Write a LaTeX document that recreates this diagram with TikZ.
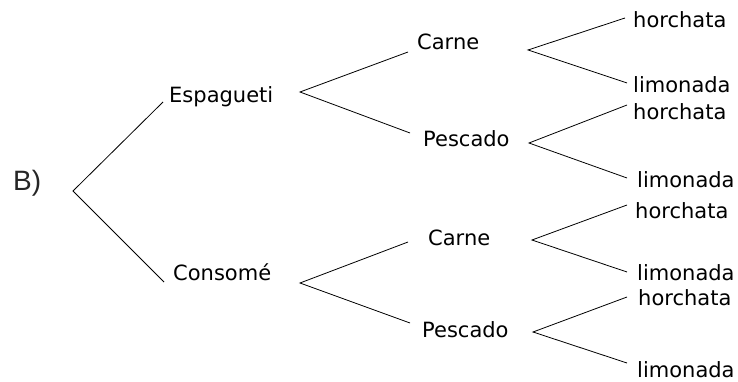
\documentclass[tikz,border=0pt]{standalone}
\usepackage{fontspec}
\setmainfont{DejaVu Sans}
\newfontfamily\labfont{Liberation Sans}
\begin{document}
\begin{tikzpicture}[x=1pt,y=-1pt,
  lbl/.style={anchor=base west,inner sep=0pt,font=\fontsize{21}{21}\selectfont,text=black},
  br/.style={line width=0.8pt,black}]
\useasboundingbox (0,0) rectangle (738,382);
% labels
\node[anchor=base west,inner sep=0pt,font=\labfont\fontsize{28}{28}\selectfont,text=black!85] (B) at (13,190) {B)};
\node[lbl] (esp) at (169,103) {Espagueti};
\node[lbl] (con) at (173,280) {Consomé};
\node[lbl] (car1) at (417,50) {Carne};
\node[lbl] (pes1) at (423,147) {Pescado};
\node[lbl] (car2) at (428,245) {Carne};
\node[lbl] (pes2) at (422,337) {Pescado};
\node[lbl] (h1) at (633,28) {horchata};
\node[lbl] (l1) at (633,93) {limonada};
\node[lbl] (h2) at (633,120) {horchata};
\node[lbl] (l2) at (637,187) {limonada};
\node[lbl] (h3) at (635,218) {horchata};
\node[lbl] (l3) at (637,280) {limonada};
\node[lbl] (h4) at (638,305) {horchata};
\node[lbl] (l4) at (637,377) {limonada};
% branch points
\coordinate (r0) at (73,191);
\coordinate (e0) at (163,102);
\coordinate (c0) at (164,282);
\coordinate (r1) at (300,92);
\coordinate (e11) at (408,52);
\coordinate (e12) at (410,133);
\coordinate (r2) at (300,283);
\coordinate (e21) at (408,242);
\coordinate (e22) at (410,323);
\coordinate (s1) at (528,50);
\coordinate (t11) at (625,18);
\coordinate (t12) at (627,83);
\coordinate (s2) at (529,143);
\coordinate (t21) at (627,105);
\coordinate (t22) at (627,178);
\coordinate (s3) at (532,240);
\coordinate (t31) at (627,205);
\coordinate (t32) at (627,272);
\coordinate (s4) at (533,332);
\coordinate (t41) at (627,297);
\coordinate (t42) at (627,363);
% connectors
\draw[br] (e0) -- (r0) -- (c0);
\draw[br] (e11) -- (r1) -- (e12);
\draw[br] (e21) -- (r2) -- (e22);
\draw[br] (t11) -- (s1) -- (t12);
\draw[br] (t21) -- (s2) -- (t22);
\draw[br] (t31) -- (s3) -- (t32);
\draw[br] (t41) -- (s4) -- (t42);
\end{tikzpicture}
\end{document}
